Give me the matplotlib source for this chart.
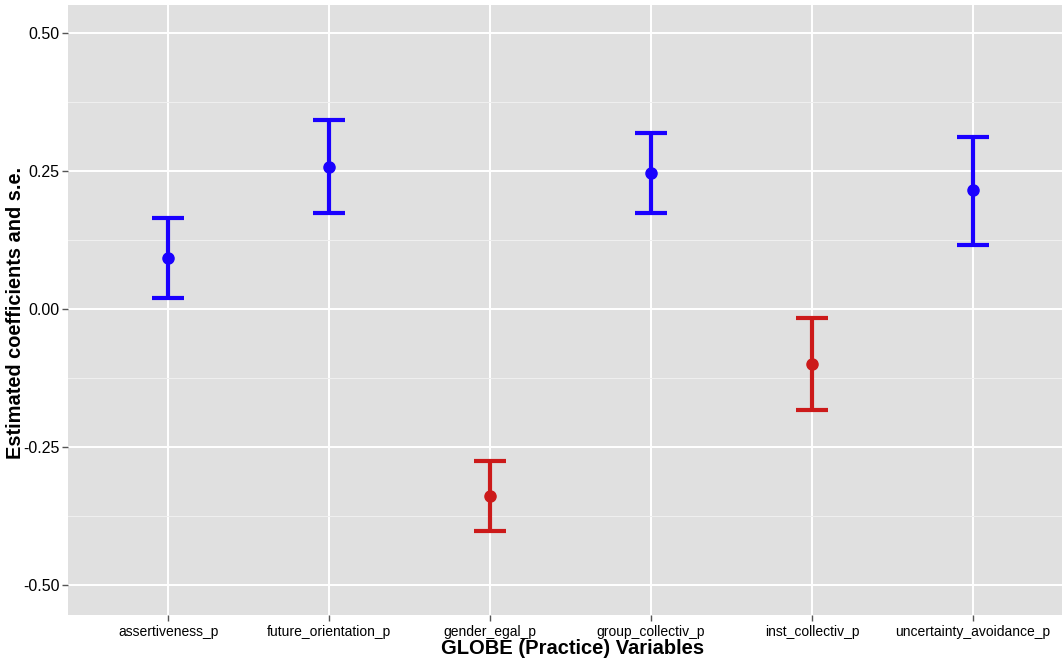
import numpy as np
from matplotlib import pyplot as plt

plt.rcParams['font.family'] = ['Liberation Sans', 'DejaVu Sans']

variables = ['assertiveness_p', 'future_orientation_p', 'gender_egal_p',
             'group_collectiv_p', 'inst_collectiv_p', 'uncertainty_avoidance_p']
coef = [0.092, 0.257, -0.339, 0.246, -0.100, 0.216]
upper = [0.165, 0.342, -0.275, 0.319, -0.016, 0.312]
lower = [0.020, 0.174, -0.402, 0.174, -0.183, 0.116]

fig = plt.figure(figsize=(10.62, 6.61), dpi=100)
ax = fig.add_axes([0.064, 0.0696, 0.936, 0.9228])
ax.set_facecolor('#e0e0e0')

x = np.arange(1, len(variables) + 1)
for xi, c, lo, up in zip(x, coef, lower, upper):
    col = '#1a00ff' if c > 0 else '#cc1a1a'
    ax.errorbar(xi, c, yerr=[[c - lo], [up - c]], fmt='o', color=col,
                ecolor=col, elinewidth=3, capsize=11.5, capthick=3,
                markersize=8, zorder=3)

ax.set_xlim(0.377, 6.553)
ax.set_ylim(-0.554, 0.551)
ax.set_xticks(x)
ax.set_xticklabels(variables)
ax.set_yticks([-0.5, -0.25, 0, 0.25, 0.5])
ax.set_yticklabels(['-0.50', '-0.25', '0.00', '0.25', '0.50'])
ax.set_yticks([-0.375, -0.125, 0.125, 0.375], minor=True)
ax.grid(True, which='major', color='white', linewidth=1.4)
ax.grid(True, which='minor', axis='y', color='#f0f0f0', linewidth=0.7)
ax.set_axisbelow(True)
for s in ax.spines.values():
    s.set_visible(False)
ax.tick_params(axis='both', which='major', length=4, width=1, color='#555555',
               labelcolor='black', pad=3)
ax.tick_params(axis='x', labelsize=10)
ax.tick_params(axis='y', labelsize=11.5, pad=2)
ax.tick_params(axis='y', which='minor', length=0)

ax.set_xlabel('GLOBE (Practice) Variables', fontsize=14.5, fontweight='bold', labelpad=0)
ax.xaxis.set_label_coords(0.508, -0.040)
ax.set_ylabel('Estimated coefficients and s.e.', fontsize=14.4, fontweight='bold')
ax.yaxis.set_label_coords(-0.043, 0.495)

plt.savefig('out.png', dpi=100)
